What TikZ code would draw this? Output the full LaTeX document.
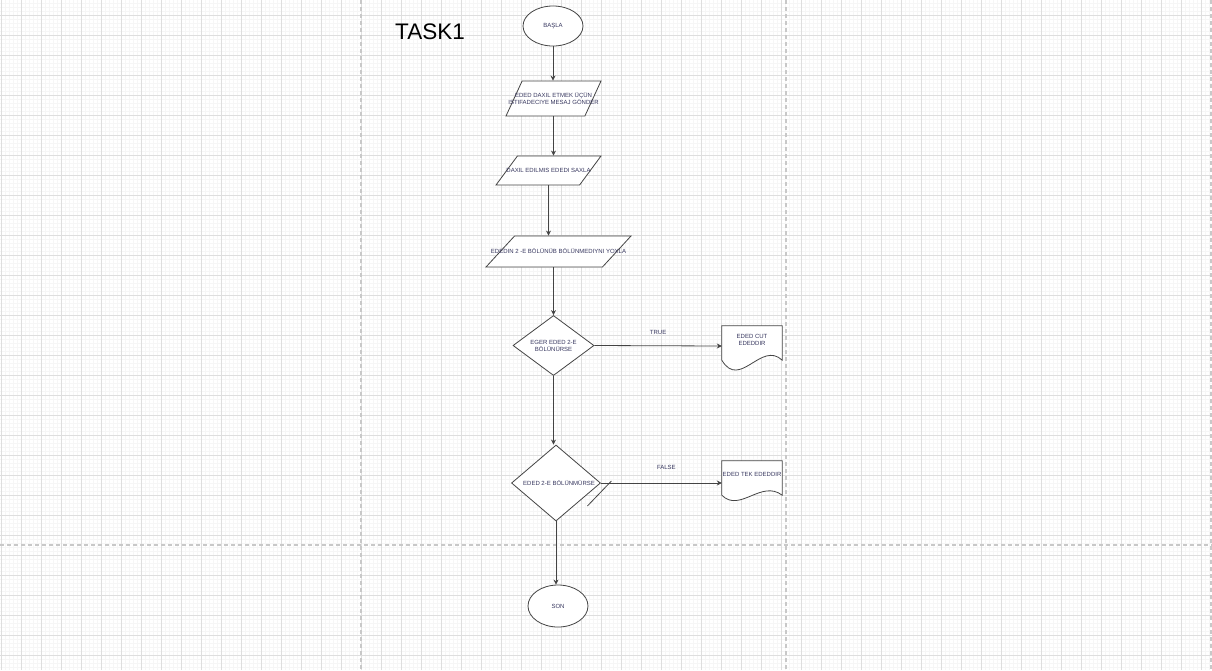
\documentclass[tikz,border=0pt]{standalone}
\usepackage{fontspec}
\setmainfont{Liberation Sans}
\usepackage{xcolor}
\usetikzlibrary{arrows.meta,shapes.geometric,calc}
\definecolor{gridmajor}{RGB}{222,222,222}
\definecolor{gridminor}{RGB}{246,246,246}
\definecolor{pagebrk}{RGB}{200,200,200}
\definecolor{inktext}{RGB}{55,55,95}
\definecolor{inkline}{RGB}{68,68,68}
\pgfdeclarelayer{grid}
\pgfdeclarelayer{docs}
\pgfsetlayers{grid,docs,main}
\tikzset{
  shp/.style={draw=inkline, line width=0.8pt, fill=white},
  lbl/.style={text=inktext, font=\fontsize{6}{7}\selectfont, align=center, inner sep=0pt},
  term/.style={shp, ellipse, lbl},
  io/.style={shp, trapezium, trapezium stretches=true, inner sep=1pt},
  dec/.style={shp, diamond, inner sep=1pt},
  doc/.style={inner sep=0pt, minimum width=60pt, minimum height=40pt},
  arr/.style={-{Stealth[length=5pt,width=5pt]}, draw=inkline, line width=0.8pt},
  stroke/.style={draw=inkline, line width=0.8pt},
}
% document box with a wavy lower edge
\newcommand{\docwave}[3]{%
  \begin{pgfonlayer}{docs}
  \draw[shp] (#1.north west) -- (#1.north east) -- ($(#1.south east)+(0,-6)$)
    .. controls ($(#1.south east)+(-21,#3)$) and ($(#1.south west)+(18,#2)$) .. ($(#1.south west)+(0,-6)$) -- cycle;
  \end{pgfonlayer}}

\begin{document}
\begin{tikzpicture}[x=1pt, y=-1pt]
\useasboundingbox (0,0) rectangle (1212,670);
\begin{pgfonlayer}{grid}
\fill[white] (0,0) rectangle (1212,670);
\foreach \gx in {1,5,...,1211} \draw[gridminor, line width=0.6pt] (\gx,0) -- (\gx,670);
\foreach \gy in {3,7,...,667} \draw[gridminor, line width=0.6pt] (0,\gy) -- (1212,\gy);
\foreach \gx in {1,21,...,1201} \draw[gridmajor, line width=0.8pt] (\gx,0) -- (\gx,670);
\foreach \gy in {15,35,...,655} \draw[gridmajor, line width=0.8pt] (0,\gy) -- (1212,\gy);
\foreach \gx in {361,786,1211} \draw[pagebrk, line width=1.3pt, dash pattern=on 4pt off 3pt] (\gx,0) -- (\gx,670);
\draw[pagebrk, line width=1.3pt, dash pattern=on 4pt off 3pt] (0,545) -- (1212,545);
\end{pgfonlayer}

\node[font=\fontsize{22.5}{26}\selectfont] (task) at (430,32) {TASK1};

\node[term, minimum width=60pt, minimum height=40pt] (basla) at (553,26) {BAŞLA};
\node[io, trapezium left angle=75.6, trapezium right angle=104.4, minimum width=95pt, minimum height=35pt,
  label={[lbl]center:EDED DAXIL ETMEK ÜÇÜN\\ISTIFADECIYE MESAJ GÖNDER}] (mesaj) at (553.5,98.5) {};
\node[io, trapezium left angle=71, trapezium right angle=109, minimum width=105pt, minimum height=29pt,
  label={[lbl]center:DAXIL EDILMIS EDEDI SAXLA}] (saxla) at (548.5,170.5) {};
\node[io, trapezium left angle=72, trapezium right angle=108, minimum width=145pt, minimum height=31pt,
  label={[lbl]center:EDEDIN 2 -E BÖLÜNÜB BÖLÜNMEDIYNI YOXLA}] (yoxla) at (558.5,251.5) {};
\node[dec, minimum width=81pt, minimum height=60pt,
  label={[lbl]center:EGER EDED 2-E\\BÖLÜNÜRSE}] (sert1) at (553.5,345.5) {};
\node[dec, minimum width=89pt, minimum height=76pt,
  label={[lbl, xshift=3pt]center:EDED 2-E BÖLÜNMÜRSE}] (sert2) at (556,483) {};
\node[doc, label={[lbl, yshift=6.5pt]center:EDED CUT\\EDEDDIR}] (cut) at (752,346) {};
\node[doc, label={[lbl, yshift=7pt]center:EDED TEK EDEDDIR}] (tek) at (752,481) {};
\node[term, minimum width=60pt, minimum height=42pt] (son) at (558,606) {SON};
\docwave{cut}{24}{-26}
\docwave{tek}{12}{-22}

\draw[arr] (basla) -- (basla |- mesaj.north);
\draw[arr] (mesaj.center |- mesaj.south) -- (mesaj.center |- saxla.north);
\draw[arr] (saxla.center |- saxla.south) -- (saxla.center |- yoxla.north);
\draw[arr] (sert1 |- yoxla.south) -- (sert1.north);
\draw[arr] (sert1.east) -- node[lbl, above=11pt]{TRUE} (cut.west);
\draw[arr] (sert1.south) -- (sert1.south |- sert2.north);
\draw[arr] (sert2.east) -- node[lbl, above=13pt, xshift=5pt]{FALSE} (sert2.east -| tek.west);
\draw[stroke] ($(sert2.east)+(-13.5,23)$) -- ($(sert2.east)+(10.5,-2)$);
\draw[arr] (sert2.south) -- (sert2.south |- son.north);
\end{tikzpicture}
\end{document}
